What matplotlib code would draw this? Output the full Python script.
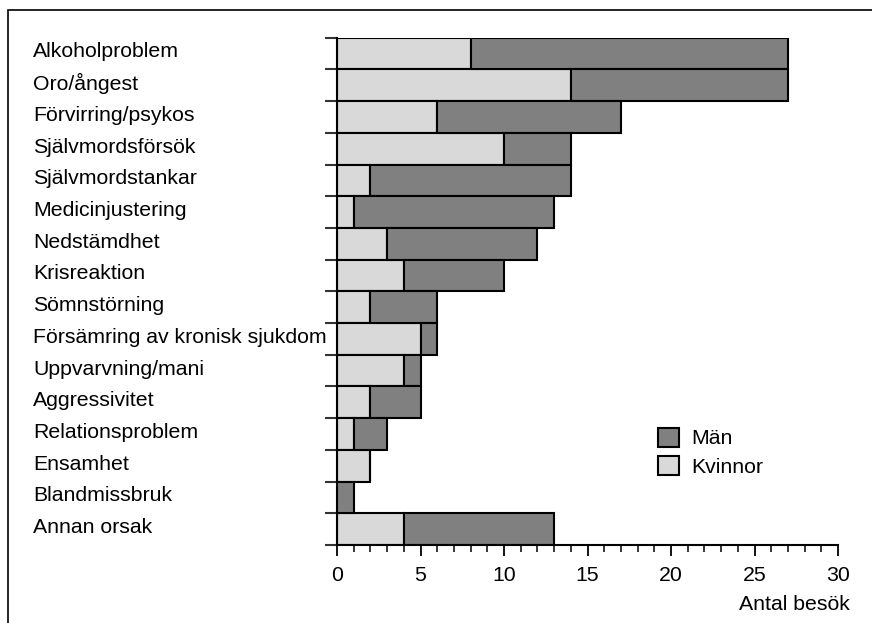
import matplotlib.pyplot as plt
from matplotlib.patches import Rectangle
from matplotlib.transforms import blended_transform_factory
from matplotlib.ticker import MultipleLocator

plt.rcParams['font.family'] = ['Liberation Sans', 'DejaVu Sans']

orsaker = ['Alkoholproblem', 'Oro/ångest', 'Förvirring/psykos', 'Självmordsförsök',
           'Självmordstankar', 'Medicinjustering', 'Nedstämdhet', 'Krisreaktion',
           'Sömnstörning', 'Försämring av kronisk sjukdom', 'Uppvarvning/mani',
           'Aggressivitet', 'Relationsproblem', 'Ensamhet', 'Blandmissbruk', 'Annan orsak']
kvinnor = [8, 14, 6, 10, 2, 1, 3, 4, 2, 5, 4, 2, 1, 2, 0, 4]
man = [19, 13, 11, 4, 12, 12, 9, 6, 4, 1, 1, 3, 2, 0, 1, 9]

ljus = '#d9d9d9'
mork = '#808080'
fs = 15.3

fig = plt.figure(figsize=(8.72, 6.23), dpi=100)
# ram runt figuren (bara vänster och övre kant syns)
fig.patches.append(Rectangle((8 / 872, -0.2), 1.2, 0.2 + 613 / 623,
                             transform=fig.transFigure, fill=False, edgecolor='black', lw=1.2))

ax = fig.add_axes([337 / 872, 78 / 623, 501 / 872, 507.3 / 623])
pos = list(range(len(orsaker)))
bk = ax.barh(pos, kvinnor, height=1.0, color=ljus, edgecolor='black', lw=1.5, label='Kvinnor')
bm = ax.barh(pos, man, left=kvinnor, height=1.0, color=mork, edgecolor='black', lw=1.5, label='Män')

ax.set_xlim(0, 30)
ax.set_ylim(len(orsaker) - 0.5, -0.5)
ax.spines['top'].set_visible(False)
ax.spines['right'].set_visible(False)
ax.spines['left'].set_linewidth(1.5)
ax.spines['bottom'].set_linewidth(1.5)

ax.set_yticks([p - 0.5 for p in pos] + [len(orsaker) - 0.5])
ax.set_yticklabels([])
ax.tick_params(axis='y', length=9, width=1.5, color='#333333')

ax.xaxis.set_major_locator(MultipleLocator(5))
ax.xaxis.set_minor_locator(MultipleLocator(1))
ax.tick_params(axis='x', which='major', length=8, width=1.3, labelsize=fs, pad=7)
ax.tick_params(axis='x', which='minor', length=5, width=1.1)

trans = blended_transform_factory(fig.transFigure, ax.transData)
for p, namn in zip(pos, orsaker):
    ax.text(33 / 872, p - 0.05, namn, transform=trans, ha='left', va='center', fontsize=fs)

fig.text(850 / 872, 1 - 605 / 623, 'Antal besök', ha='right', va='center', fontsize=fs)

ax.legend([bm, bk], ['Män', 'Kvinnor'], loc='upper left',
          bbox_to_anchor=(647 / 872, 1 - 417 / 623), bbox_transform=fig.transFigure,
          frameon=False, fontsize=fs, handlelength=1.0, handleheight=1.0,
          handletextpad=0.6, labelspacing=0.35, borderpad=0)

fig.savefig('out.png', dpi=100)
